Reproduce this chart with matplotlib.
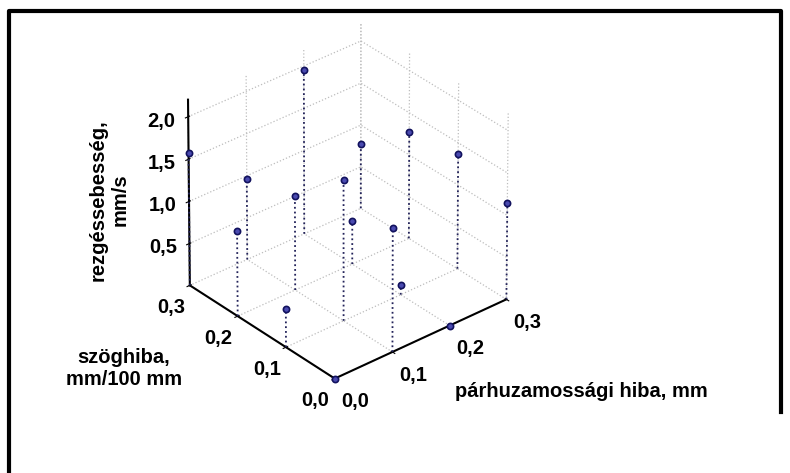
import matplotlib.pyplot as plt
import numpy as np
from matplotlib.ticker import NullFormatter
from matplotlib.lines import Line2D

plt.rcParams['font.family'] = ['Liberation Sans', 'DejaVu Sans']
plt.rcParams['font.weight'] = 'bold'
plt.rcParams['grid.linestyle'] = ':'
plt.rcParams['grid.color'] = '#bdbdbd'
plt.rcParams['grid.linewidth'] = 0.9

# factor levels
par_levels = [0.0, 0.1, 0.2, 0.3]    # párhuzamossági hiba, mm
szog_levels = [0.0, 0.1, 0.2, 0.3]   # szöghiba, mm/100 mm
# rezgéssebesség, mm/s  (rows: szöghiba, cols: párhuzamossági hiba)
rezges = [
    [0.00, 1.46, 0.00, 1.15],
    [0.46, 1.67, 0.12, 1.37],
    [1.01, 1.12, 0.52, 1.27],
    [1.57, 0.96, 1.95, 0.77],
]
z_ticks = [0.5, 1.0, 1.5, 2.0]


def fmt(v):
    return f'{v:.1f}'.replace('.', ',')


X, Y = np.meshgrid(par_levels, szog_levels)
Z = np.array(rezges)
xs, ys, zs = X.ravel(), Y.ravel(), Z.ravel()

fig = plt.figure(figsize=(7.9, 4.73), dpi=100)
ax = fig.add_axes([0.196, 0.169, 0.476, 0.795], projection='3d')
ax.view_init(elev=32, azim=-130.3)
ax.set_proj_type('persp', focal_length=5)
ax.set_box_aspect((1, 1, 0.97))

ax.set_xlim(0, 0.3)
ax.set_ylim(0, 0.3)
ax.set_zlim(0, 2.2)

for axis in (ax.xaxis, ax.yaxis, ax.zaxis):
    axis.set_pane_color((1, 1, 1, 0))
    axis.pane.set_edgecolor('#c0c0c0')
    axis.pane.set_linestyle(':')
    axis.line.set_color('black')
    axis.line.set_linewidth(1.5)
    axis.set_major_formatter(NullFormatter())
    axis.set_tick_params(label1On=False)
    axis.label.set_visible(False)
    axis.offsetText.set_visible(False)

ax.set_xticks(par_levels)
ax.set_yticks(szog_levels)
ax.set_zticks(z_ticks)

# tick labels placed next to the axes
for p in par_levels:
    ax.text(p, -0.042, -0.12, fmt(p), ha='center', va='center', fontsize=14.5)
for s in szog_levels:
    ax.text(-0.033, s, -0.16, fmt(s), ha='center', va='center', fontsize=14.5)
for z in z_ticks:
    ax.text(-0.012, 0.312, z - 0.06, fmt(z), ha='right', va='center', fontsize=14.5)

# drop lines
for x, y, z in zip(xs, ys, zs):
    ax.plot([x, x], [y, y], [0, z], ls=':', color='#23235a', lw=1.3)
ax.scatter(xs, ys, zs, s=20, c='#4a4ab0', edgecolors='#12125e', linewidths=1.2,
           depthshade=False)

fig.text(0.138, 0.577, 'rezgéssebesség,\nmm/s', rotation=90, ha='center', va='center',
         fontsize=14.5, linespacing=1.15)
fig.text(0.157, 0.22, 'szöghiba,\nmm/100 mm', ha='center', va='center',
         fontsize=14.5, linespacing=1.2)
fig.text(0.576, 0.173, 'párhuzamossági hiba, mm', ha='left', va='center', fontsize=14.5)

# frame round the picture
fig.add_artist(Line2D([0.0114, 0.0114, 0.9886, 0.9886], [0.0, 0.977, 0.977, 0.13],
                      transform=fig.transFigure, color='black', lw=3))

plt.savefig('out.png')
